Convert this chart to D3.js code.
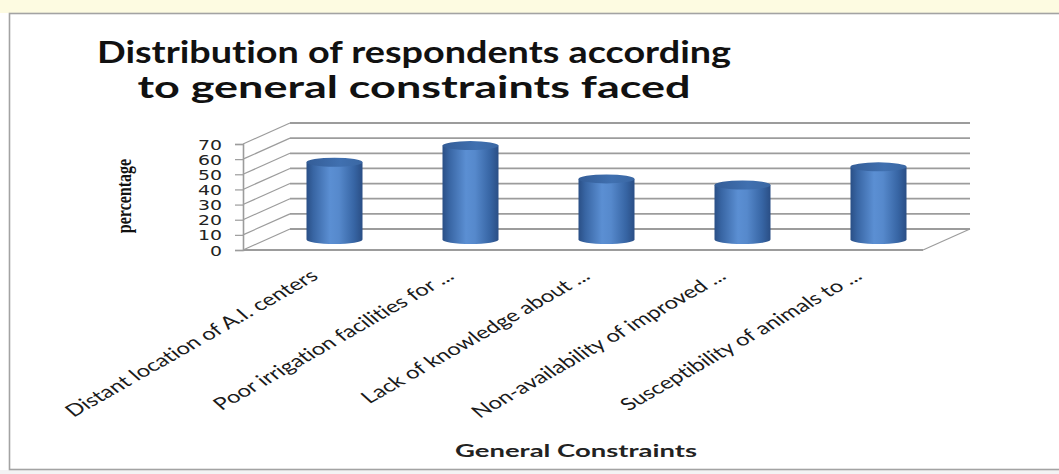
<!DOCTYPE html>
<html>
<head>
<meta charset="utf-8">
<script src="https://cdn.jsdelivr.net/npm/d3@7"></script>
<style>
  body { margin: 0; background: #fff; }
  svg { display: block; }
  text { font-variant-ligatures: none; font-feature-settings: "liga" 0, "clig" 0; }
</style>
</head>
<body>
<svg id="chart" width="1059" height="474"></svg>
<script>
// Chart data
const categories = [
  "Distant location of A.I. centers",
  "Poor irrigation facilities for ...",
  "Lack of knowledge about ...",
  "Non-availability of improved ...",
  "Susceptibility of animals to ..."
];
const values = [51, 62, 40, 36, 48];
const yTicks = [0, 10, 20, 30, 40, 50, 60, 70];
const titleLines = ["Distribution of respondents according", "to general constraints faced"];
const yTitle = "percentage";
const xTitle = "General Constraints";

const svg = d3.select("#chart");
const W = 1059, H = 474;

// Page background, top band and chart frame
svg.append("rect").attr("width", W).attr("height", H).attr("fill", "#ffffff");
svg.append("rect").attr("width", W).attr("height", 13).attr("fill", "#fdfbe1");
svg.append("rect").attr("x", 0).attr("y", 470).attr("width", W).attr("height", 4).attr("fill", "#f3f3f3");
svg.append("rect")
  .attr("x", 9.5).attr("y", 13.5).attr("width", W).attr("height", 456)
  .attr("fill", "#ffffff").attr("stroke", "#a3a3a3").attr("stroke-width", 1.6);

// 3D projection: front plane plus a depth offset toward the back wall
const depth = { dx: 47, dy: -21 };
const x = d3.scaleBand().domain(categories).range([243, 923]).paddingInner(0).paddingOuter(0);
const yFront = d3.scaleLinear().domain([0, 70]).range([250, 144]);
const yBack = v => yFront(v) + depth.dy;
const yMid = v => yFront(v) + depth.dy / 2;
const x0 = x.range()[0], x1 = x.range()[1];

const grid = svg.append("g").attr("stroke", "#9c9c9c").attr("fill", "none");

// Back wall gridlines
grid.selectAll("line.back").data(yTicks).join("line")
  .attr("class", "back")
  .attr("x1", x0 + depth.dx).attr("x2", x1 + depth.dx)
  .attr("y1", d => yBack(d)).attr("y2", d => yBack(d))
  .attr("stroke-width", 1.8);

// Side wall gridlines
grid.selectAll("line.side").data(yTicks).join("line")
  .attr("class", "side")
  .attr("x1", x0).attr("x2", x0 + depth.dx)
  .attr("y1", d => yFront(d)).attr("y2", d => yBack(d))
  .attr("stroke-width", 1.2);

// Floor front and right edges
grid.append("line")
  .attr("x1", x0).attr("x2", x1)
  .attr("y1", yFront(0)).attr("y2", yFront(0))
  .attr("stroke-width", 1.8);
grid.append("line")
  .attr("x1", x1).attr("x2", x1 + depth.dx)
  .attr("y1", yFront(0)).attr("y2", yBack(0))
  .attr("stroke-width", 1.2);

// Vertical value axis
const yAxis = d3.axisLeft(yFront).tickValues(yTicks).tickSize(8).tickPadding(0);
const axisG = svg.append("g").attr("transform", `translate(${x0},0)`).call(yAxis);
axisG.select(".domain").attr("stroke", "#9c9c9c").attr("stroke-width", 1.6);
axisG.selectAll(".tick line").attr("stroke", "#9c9c9c").attr("stroke-width", 1.2);
axisG.selectAll(".tick text")
  .attr("x", null).attr("dy", null)
  .attr("transform", "translate(-21,5) scale(1.35,1)")
  .attr("text-anchor", "end")
  .attr("font-family", "DejaVu Sans")
  .attr("font-size", 14)
  .attr("fill", "#222");

// Cylinder gradients
const defs = svg.append("defs");
const bodyGrad = defs.append("linearGradient").attr("id", "cylBody")
  .attr("x1", "0%").attr("x2", "100%").attr("y1", "0%").attr("y2", "0%");
[["0%", "#2a4f86"], ["12%", "#3865a3"], ["42%", "#5b8fd3"], ["58%", "#5689cc"], ["85%", "#3765a4"], ["100%", "#2a4e85"]]
  .forEach(([o, c]) => bodyGrad.append("stop").attr("offset", o).attr("stop-color", c));
const capGrad = defs.append("linearGradient").attr("id", "cylTop")
  .attr("x1", "0%").attr("x2", "100%").attr("y1", "0%").attr("y2", "0%");
[["0%", "#345d97"], ["60%", "#4070b0"], ["100%", "#3a67a3"]]
  .forEach(([o, c]) => capGrad.append("stop").attr("offset", o).attr("stop-color", c));

// Cylinders sit at mid-depth of each category slot
const rx = 28, ry = 4.5;
const bars = svg.append("g").selectAll("g").data(categories.map((c, i) => ({ c, v: values[i] }))).join("g");
bars.append("path")
  .attr("fill", "url(#cylBody)")
  .attr("d", d => {
    const cx = x(d.c) + x.bandwidth() / 2 + depth.dx / 2;
    const yb = yMid(0), yt = yMid(d.v);
    return `M${cx - rx},${yt} L${cx - rx},${yb} A${rx},${ry} 0 0 0 ${cx + rx},${yb} L${cx + rx},${yt} Z`;
  });
bars.append("ellipse")
  .attr("cx", d => x(d.c) + x.bandwidth() / 2 + depth.dx / 2)
  .attr("cy", d => yMid(d.v))
  .attr("rx", rx).attr("ry", ry)
  .attr("fill", "url(#cylTop)");

// Category labels, slanted
svg.append("g").selectAll("text").data(categories).join("text")
  .attr("transform", d => `translate(${x(d) + x.bandwidth() / 2 + depth.dx / 2 - 15},278) scale(1.4,1) rotate(-38.5)`)
  .attr("text-anchor", "end")
  .attr("font-family", "Lato")
  .attr("font-size", 17)
  .attr("fill", "#1a1a1a")
  .text(d => d);

// Title
svg.append("g").selectAll("text").data(titleLines).join("text")
  .attr("x", 414).attr("y", (d, i) => 63 + i * 35)
  .attr("text-anchor", "middle")
  .attr("font-family", "Lato").attr("font-weight", "bold").attr("font-size", 30)
  .attr("textLength", (d, i) => i === 0 ? 634 : 553)
  .attr("lengthAdjust", "spacingAndGlyphs")
  .attr("fill", "#111")
  .text(d => d);

// Axis titles
svg.append("text")
  .attr("transform", "translate(131,196) scale(1.35,1) rotate(-90)")
  .attr("text-anchor", "middle")
  .attr("font-family", "Liberation Serif").attr("font-weight", "bold").attr("font-size", 16)
  .attr("fill", "#111")
  .text(yTitle);

svg.append("text")
  .attr("x", 576).attr("y", 457)
  .attr("text-anchor", "middle")
  .attr("font-family", "Lato").attr("font-weight", "bold").attr("font-size", 16.5)
  .attr("textLength", 242).attr("lengthAdjust", "spacingAndGlyphs")
  .attr("fill", "#222")
  .text(xTitle);
</script>
</body>
</html>
